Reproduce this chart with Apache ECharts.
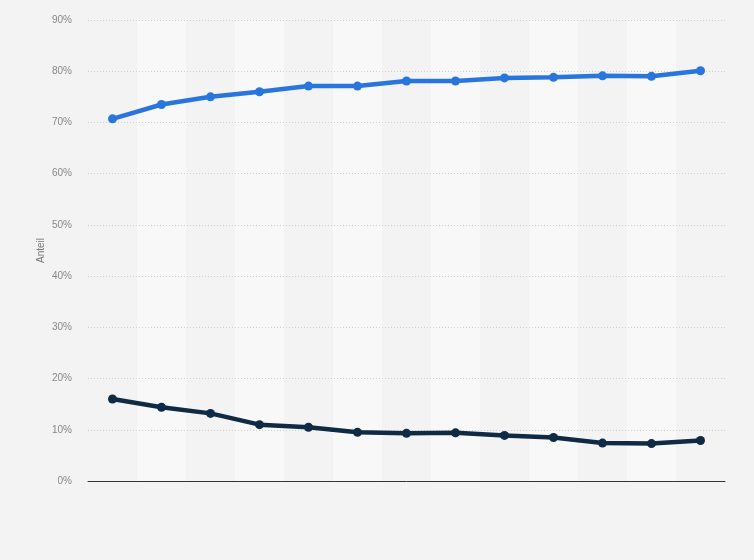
<!DOCTYPE html>
<html><head><meta charset="utf-8">
<script src="https://cdn.jsdelivr.net/npm/echarts@6/dist/echarts.min.js"></script>
<style>html,body{margin:0;padding:0;background:#f3f3f3}#c{width:754px;height:560px}</style>
</head><body><div id="c"></div>
<script>
const categories = ['1','2','3','4','5','6','7','8','9','10','11','12','13'];
const seriesBlue = [70.7, 73.5, 75.0, 76.0, 77.1, 77.1, 78.1, 78.1, 78.7, 78.8, 79.1, 79.0, 80.1];
const seriesDark = [16.0, 14.4, 13.2, 11.0, 10.5, 9.5, 9.3, 9.4, 8.9, 8.5, 7.4, 7.3, 7.9];
const yTicks = [0, 10, 20, 30, 40, 50, 60, 70, 80, 90];

const chart = echarts.init(document.getElementById('c'));
chart.setOption({
  backgroundColor: '#f3f3f3',
  animation: false,
  grid: {left: 88, right: 29, top: 20, bottom: 79},
  xAxis: {
    type: 'category', data: categories, boundaryGap: true, z: 0,
    axisLine: {lineStyle: {color: '#333', width: 1}},
    axisTick: {show: false}, axisLabel: {show: false},
    splitArea: {show: true, areaStyle: {color: ['#f3f3f3', '#f8f8f8']}}
  },
  yAxis: {
    type: 'value', min: 0, max: 90, interval: 10, z: 1,
    name: 'Anteil', nameLocation: 'middle', nameGap: 42, nameMoveOverlap: false,
    nameTextStyle: {color: '#777', fontSize: 10, fontFamily: 'Arial, Liberation Sans'},
    axisLine: {show: false}, axisTick: {show: false},
    axisLabel: {color: '#888', fontSize: 10, fontFamily: 'Arial, Liberation Sans', margin: 16,
      formatter: v => yTicks.includes(v) ? v + '%' : ''},
    splitLine: {showMinLine: false, lineStyle: {color: '#cfcfcf', type: [1, 2], width: 1}}
  },
  series: [
    {type: 'line', data: seriesBlue, symbol: 'circle', symbolSize: 9, z: 3,
     lineStyle: {color: '#2876dd', width: 4.5}, itemStyle: {color: '#2876dd'}},
    {type: 'line', data: seriesDark, symbol: 'circle', symbolSize: 9, z: 3,
     lineStyle: {color: '#0f2a45', width: 4.5}, itemStyle: {color: '#0f2a45'}}
  ]
});
</script></body></html>
